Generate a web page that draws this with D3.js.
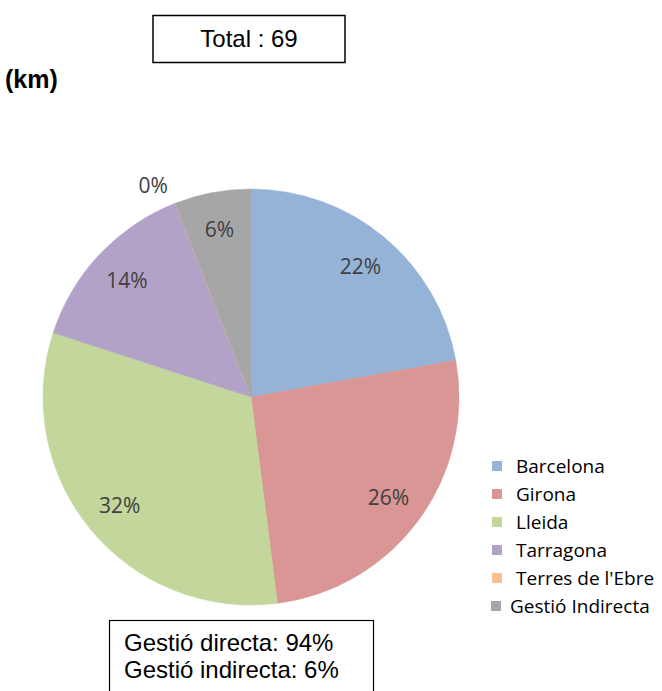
<!DOCTYPE html>
<html><head><meta charset="utf-8">
<script src="https://cdn.jsdelivr.net/npm/d3@7"></script>
<style>body{margin:0;background:#fff}</style>
</head><body>
<script>
const categories = ["Barcelona","Girona","Lleida","Tarragona","Terres de l'Ebre","Gestió Indirecta"];
const values = [15.3, 17.8, 22.1, 9.7, 0, 4.1];
const labels = ["22%","26%","32%","14%","0%","6%"];
const colors = ["#95B3D7","#D99694","#C3D69B","#B3A2C7","#FAC090","#A6A6A6"];
const totalText = "Total : 69";
const unitText = "(km)";
const noteLines = ["Gestió directa: 94%","Gestió indirecta: 6%"];

const W=662,H=691;
const svg=d3.select("body").append("svg").attr("width",W).attr("height",H);
const cx=251, cy=397, R=208;

const data=categories.map((c,i)=>({c,v:values[i],l:labels[i],col:colors[i]}));
const pie=d3.pie().value(d=>d.v).sort(null);
const arcs=pie(data);
const arc=d3.arc().innerRadius(0).outerRadius(R);
const lblArc=d3.arc().innerRadius(R*0.82).outerRadius(R*0.82);
const outArc=d3.arc().innerRadius(R*1.12).outerRadius(R*1.12);
const g=svg.append("g").attr("transform",`translate(${cx},${cy})`);
g.selectAll("path").data(arcs).join("path").attr("d",arc).attr("fill",d=>d.data.col)
 .attr("stroke",d=>d.data.col).attr("stroke-width",0.5);
g.selectAll("text").data(arcs).join("text")
 .attr("transform",d=>{
   const p = d.data.v===0 ? outArc.centroid({startAngle:d.startAngle-0.06,endAngle:d.endAngle-0.06}) : lblArc.centroid(d);
   return `translate(${p[0]},${p[1]})`;})
 .attr("text-anchor","middle").attr("dy","0.36em")
 .attr("font-family","'Open Sans', sans-serif").attr("font-size",21).attr("fill","#404040")
 .text(d=>d.data.l);

// Total box
svg.append("rect").attr("x",153).attr("y",15.5).attr("width",192).attr("height",47)
 .attr("fill","#fff").attr("stroke","#000").attr("stroke-width",1.5);
svg.append("text").attr("x",249).attr("y",47).attr("text-anchor","middle")
 .attr("font-family","'Liberation Sans', Arial, sans-serif").attr("font-size",24).text(totalText);
svg.append("text").attr("x",5).attr("y",88)
 .attr("font-family","'Liberation Sans', Arial, sans-serif").attr("font-size",25).attr("font-weight","bold").text(unitText);

// Note box
svg.append("rect").attr("x",109.5).attr("y",620.5).attr("width",264).attr("height",80)
 .attr("fill","#fff").attr("stroke","#000").attr("stroke-width",1.2);
noteLines.forEach((t,i)=>svg.append("text").attr("x",124).attr("y",651+i*27)
 .attr("font-family","'Liberation Sans', Arial, sans-serif").attr("font-size",24).text(t));

// Legend
const ly=d3.scaleBand().domain(categories).range([452,620]);
const lg=svg.append("g");
categories.forEach((c,i)=>{
  const last=i===categories.length-1;
  const y=ly(c)+ly.bandwidth()/2;
  lg.append("rect").attr("x",last?491:492).attr("y",y-5).attr("width",10).attr("height",10).attr("fill",colors[i]);
  lg.append("text").attr("x",last?510:516).attr("y",y).attr("dy","0.36em")
   .attr("font-family","'Open Sans', sans-serif").attr("font-size",19).attr("fill","#000").text(c);
});
</script>
</body></html>
